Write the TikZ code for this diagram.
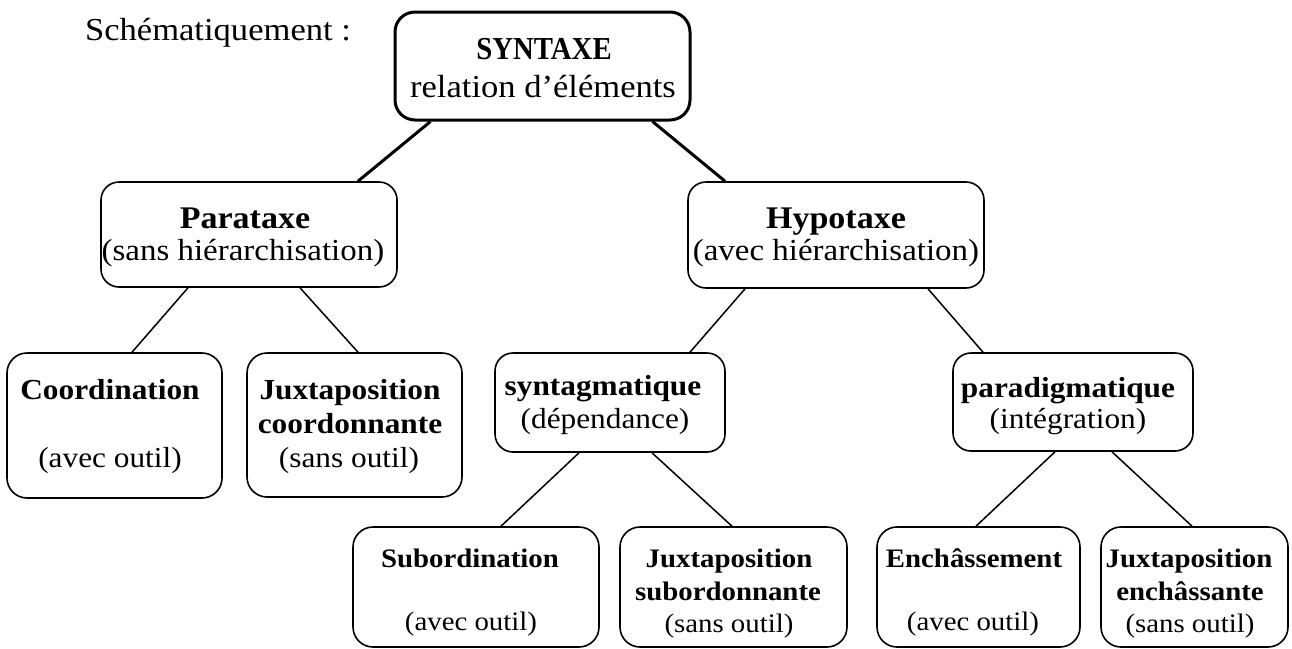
\documentclass[tikz,border=0pt]{standalone}
\usepackage{fontspec}
\setmainfont{Liberation Serif}[FakeStretch=1.08]
\newfontfamily\narrowserif{Liberation Serif}[FakeStretch=0.9]
\begin{document}
\begin{tikzpicture}[x=1pt,y=-1pt,
  box/.style={draw, rounded corners=18pt, line width=1.6pt, inner sep=0pt},
  mainbox/.style={box, line width=3pt, rounded corners=20pt},
  conn/.style={line width=1.5pt},
  mainconn/.style={line width=3pt},
  txt/.style={anchor=base, inner sep=0pt},
  big/.style={txt, font=\fontsize{32}{38}\selectfont},
  bigb/.style={txt, font=\narrowserif\fontsize{32}{38}\selectfont\bfseries},
  mid/.style={txt, font=\fontsize{30.5}{36}\selectfont},
  midb/.style={txt, font=\fontsize{31.5}{36}\selectfont\bfseries},
  low/.style={txt, font=\fontsize{29}{34}\selectfont},
  lowb/.style={txt, font=\fontsize{29}{34}\selectfont\bfseries},
  bot/.style={txt, font=\fontsize{26.7}{31}\selectfont},
  botb/.style={txt, font=\fontsize{26.7}{31}\selectfont\bfseries}]
\useasboundingbox (0,0) rectangle (1292,648);

% boxes
\node[mainbox, minimum width=295pt, minimum height=108pt] (syn) at (542.5,66) {};
\node[box, minimum width=296pt, minimum height=105pt] (para) at (249,234.5) {};
\node[box, minimum width=296pt, minimum height=106pt] (hyp) at (836,235) {};
\node[box, rounded corners=20pt, minimum width=215pt, minimum height=145pt] (coord) at (114.5,425.5) {};
\node[box, rounded corners=20pt, minimum width=215pt, minimum height=144pt] (juxc) at (354.5,425) {};
\node[box, minimum width=230pt, minimum height=99pt] (synt) at (610,402.5) {};
\node[box, minimum width=240pt, minimum height=98pt] (parad) at (1073,402) {};
\node[box, rounded corners=20pt, minimum width=246pt, minimum height=120pt] (sub) at (476,587) {};
\node[box, rounded corners=20pt, minimum width=227pt, minimum height=120pt] (juxs) at (733.5,587) {};
\node[box, rounded corners=20pt, minimum width=203pt, minimum height=120pt] (ench) at (978.5,587) {};
\node[box, rounded corners=20pt, minimum width=187pt, minimum height=120pt] (juxe) at (1194.5,587) {};

% texts
\node[big] (schem) at (218,40) {Schématiquement :};
\node[bigb] (synT) at (544,59) {SYNTAXE};
\node[big] (synS) at (543,97) {relation d’éléments};

\node[midb] (paraT) at (245,228) {Parataxe};
\node[mid] (paraS) at (243,260) {(sans hiérarchisation)};
\node[midb] (hypT) at (836,228) {Hypotaxe};
\node[mid] (hypS) at (836,260) {(avec hiérarchisation)};

\node[lowb] (coordT) at (110,399) {Coordination};
\node[low] (coordS) at (110,467) {(avec outil)};
\node[lowb] (juxcT) at (350,399) {Juxtaposition};
\node[lowb] (juxcT2) at (350,433) {coordonnante};
\node[low] (juxcS) at (349,467) {(sans outil)};

\node[lowb] (syntT) at (603,395) {syntagmatique};
\node[low] (syntS) at (605,428) {(dépendance)};
\node[lowb] (paradT) at (1068,397) {paradigmatique};
\node[low] (paradS) at (1068,428) {(intégration)};

\node[botb] (subT) at (470,567) {Subordination};
\node[bot] (subS) at (471,630) {(avec outil)};
\node[botb] (juxsT) at (729,567) {Juxtaposition};
\node[botb] (juxsT2) at (728,600) {subordonnante};
\node[bot] (juxsS) at (729,632) {(sans outil)};
\node[botb] (enchT) at (974,567) {Enchâssement};
\node[bot] (enchS) at (973,630) {(avec outil)};
\node[botb] (juxeT) at (1189,567) {Juxtaposition};
\node[botb] (juxeT2) at (1190,600) {enchâssante};
\node[bot] (juxeS) at (1190,632) {(sans outil)};

% connectors
\draw[mainconn] ([xshift=-112pt]syn.south) -- ([xshift=109pt]para.north);
\draw[mainconn] ([xshift=110pt]syn.south) -- ([xshift=-111pt]hyp.north);
\draw[conn] ([xshift=-61pt]para.south) -- ([xshift=17.5pt]coord.north);
\draw[conn] ([xshift=51pt]para.south) -- ([xshift=3.5pt]juxc.north);
\draw[conn] ([xshift=-91pt]hyp.south) -- ([xshift=80pt]synt.north);
\draw[conn] ([xshift=92pt]hyp.south) -- ([xshift=-90pt]parad.north);
\draw[conn] ([xshift=-31pt]synt.south) -- ([xshift=25pt]sub.north);
\draw[conn] ([xshift=42pt]synt.south) -- ([xshift=-1.5pt]juxs.north);
\draw[conn] ([xshift=-18pt]parad.south) -- ([xshift=-2.5pt]ench.north);
\draw[conn] ([xshift=39pt]parad.south) -- ([xshift=-2.5pt]juxe.north);
\end{tikzpicture}
\end{document}
